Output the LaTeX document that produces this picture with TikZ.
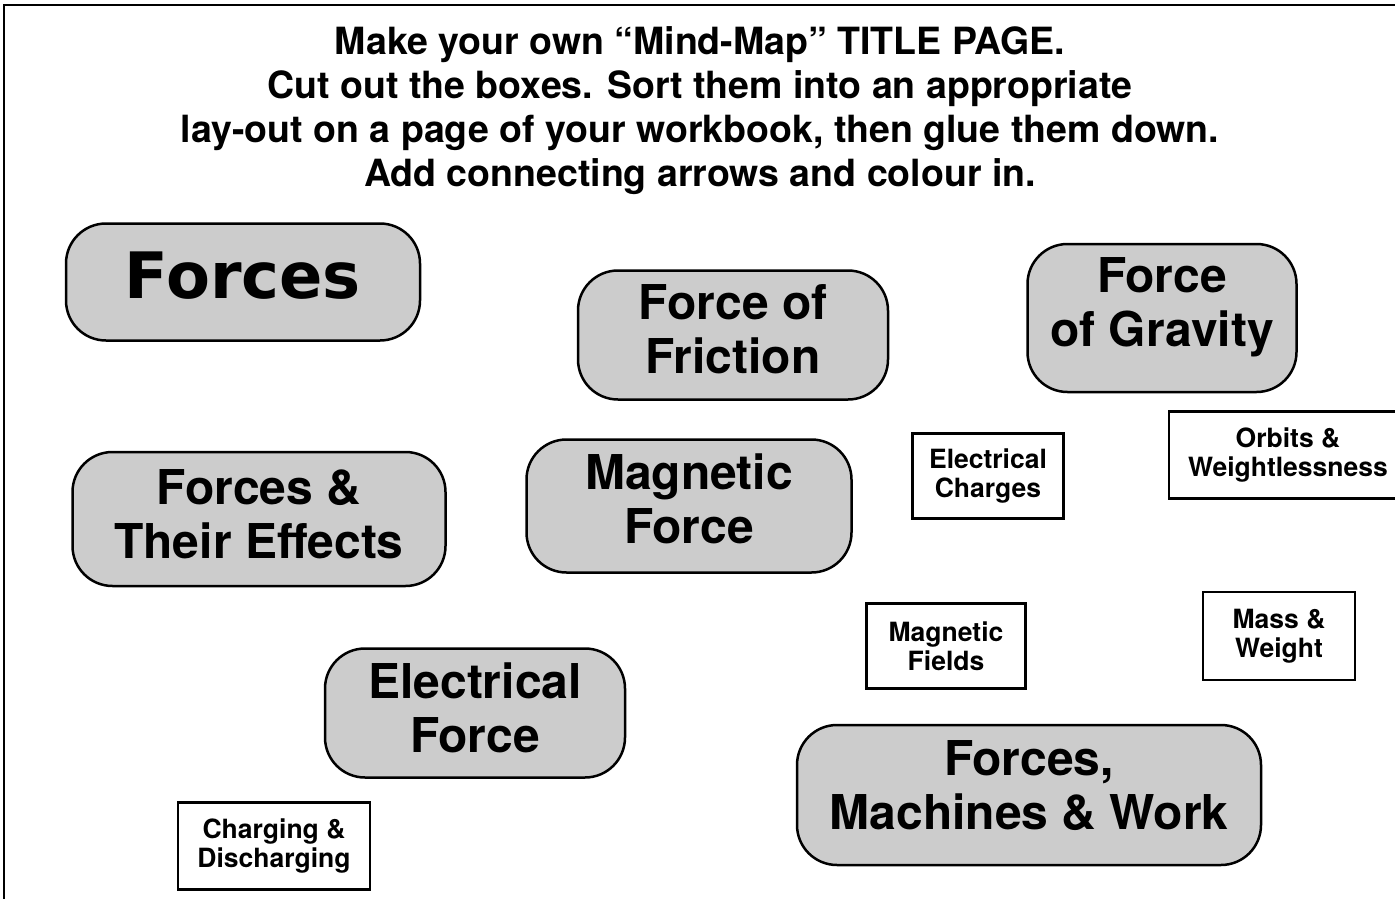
\documentclass[tikz,border=0pt]{standalone}
\usepackage{fontspec}
\setmainfont{TeX Gyre Heros}
\newfontfamily\heavyfont{DejaVu Sans}
\usepackage{tikz}
\usetikzlibrary{positioning}
\definecolor{boxgrey}{HTML}{CCCCCC}

\newcommand{\titlefont}{\fontsize{37.5}{44}\selectfont\bfseries}
\newcommand{\topicfont}{\fontsize{48}{54}\selectfont\bfseries}
\newcommand{\smallfont}{\fontsize{26.5}{29}\selectfont\bfseries}

\begin{document}
\begin{tikzpicture}[x=1pt, y=-1pt,
    topic/.style={draw, rounded corners=40pt, fill=boxgrey, line width=2.5pt, align=center, inner sep=0pt, font=\topicfont},
    subbox/.style={draw, rectangle, fill=white, line width=2.5pt, align=center, inner sep=0pt, font=\smallfont},
    lift/.style={execute at end node={\rule[-#1]{0pt}{0pt}}},
]
\useasboundingbox (0,0) rectangle (1395,899);

% page frame
\draw[line width=2.5pt] (4,905) -- (4,5) -- (1400,5);

\node[font=\titlefont, align=center] (title) at (700,111) {Make your own “Mind-Map” TITLE PAGE.\\
Cut out the boxes. Sort them into an appropriate\\
lay-out on a page of your workbook, then glue them down.\\
Add connecting arrows and colour in.};

% main topics
\node[topic, lift=14pt, minimum width=354pt, minimum height=117pt, font=\fontsize{64}{64}\selectfont\heavyfont\bfseries] (forces) at (243,282) {Forces};
\node[topic, lift=12pt, minimum width=310pt, minimum height=129pt] (friction) at (733,335) {Force of\\Friction};
\node[topic, lift=32pt, minimum width=269pt, minimum height=148pt] (gravity) at (1162,318) {Force\\of Gravity};
\node[topic, lift=10pt, minimum width=373pt, minimum height=134pt] (effects) at (259,519) {Forces \&\\Their Effects};
\node[topic, lift=14pt, minimum width=325pt, minimum height=133pt] (magnetic) at (689,506) {Magnetic\\Force};
\node[topic, lift=11pt, minimum width=300pt, minimum height=129pt] (electrical) at (475,713) {Electrical\\Force};
\node[topic, lift=20pt, minimum width=464pt, minimum height=140pt] (machines) at (1029,795) {Forces,\\Machines \& Work};

% small boxes
\node[subbox, minimum width=151pt, minimum height=85pt] (charges) at (988,476) {Electrical\\Charges};
\node[subbox, minimum width=238pt, minimum height=87pt] (orbits) at (1288,455) {Orbits \&\\Weightlessness};
\node[subbox, minimum width=159pt, minimum height=85pt] (fields) at (946,646) {Magnetic\\Fields};
\node[subbox, minimum width=152pt, minimum height=88pt] (mass) at (1279,636) {Mass \&\\Weight};
\node[subbox, minimum width=192pt, minimum height=87pt] (charging) at (274,846) {Charging \&\\Discharging};
\end{tikzpicture}
\end{document}
